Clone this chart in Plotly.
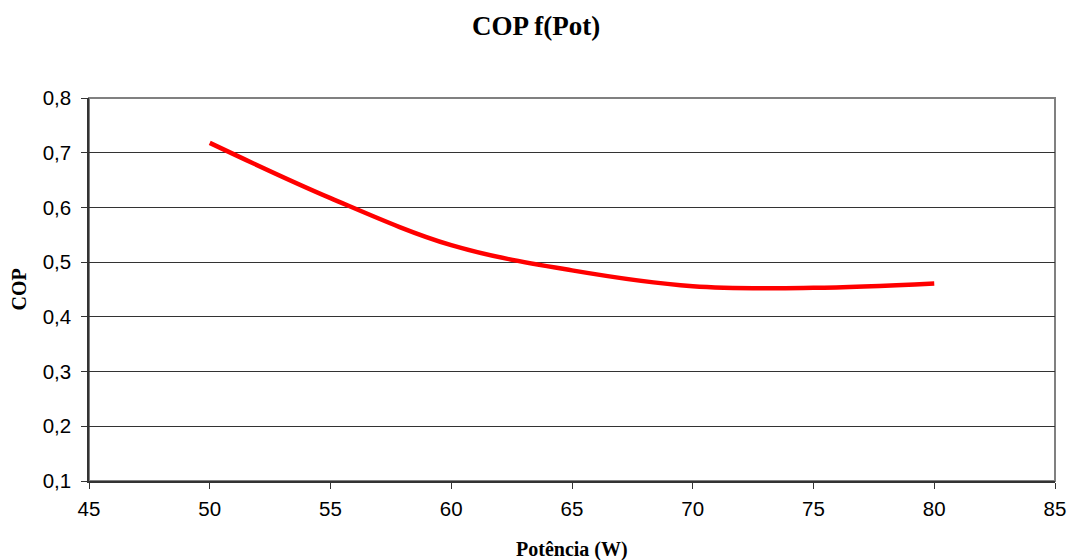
import plotly.graph_objects as go

potencia = [50, 55, 60, 65, 70, 75, 80]
cop = [0.718, 0.617, 0.531, 0.485, 0.456, 0.453, 0.461]

title_text = "COP f(Pot)"
x_title = "Potência (W)"
y_title = "COP"
x_ticks = [45, 50, 55, 60, 65, 70, 75, 80, 85]
y_ticks = [0.1, 0.2, 0.3, 0.4, 0.5, 0.6, 0.7, 0.8]

fig = go.Figure()
fig.add_trace(go.Scatter(
    x=potencia, y=cop, mode="lines",
    line=dict(color="#FF0000", width=4.5, shape="spline", smoothing=1.0),
    showlegend=False, hoverinfo="x+y",
))

serif = "Liberation Serif, Times New Roman, serif"
sans = "Liberation Sans, Arial, sans-serif"

fig.update_layout(
    width=1072, height=560,
    margin=dict(l=89, r=17, t=98, b=79, autoexpand=False),
    paper_bgcolor="white", plot_bgcolor="white",
    separators=", ",
    font=dict(family=sans, size=20, color="black"),
    xaxis=dict(
        range=[45, 85], tickvals=x_ticks, showgrid=False, zeroline=False,
        automargin=False,
        showline=True, linecolor="#333333", linewidth=1.5,
        ticks="outside", ticklen=6, tickcolor="#333333", tickwidth=1.2,
        ticklabelstandoff=3,
        tickfont=dict(family=sans, size=20.5, color="black"),
    ),
    yaxis=dict(
        range=[0.1, 0.8], tickvals=y_ticks, tickformat=".1f",
        automargin=False,
        showgrid=True, gridcolor="#333333", gridwidth=1, zeroline=False,
        showline=True, linecolor="#333333", linewidth=1.5,
        ticks="outside", ticklen=6, tickcolor="#333333", tickwidth=1.2,
        ticklabelstandoff=6,
        tickfont=dict(family=sans, size=20.5, color="black"),
    ),
    shapes=[dict(type="rect", xref="paper", yref="paper", x0=0, y0=0, x1=1, y1=1,
                 line=dict(color="#808080", width=2), layer="below")],
    annotations=[
        dict(text="<b>" + title_text + "</b>", xref="paper", yref="paper",
             x=0.5, y=(560 - 27 - 79) / 383.0, xanchor="center", yanchor="middle",
             showarrow=False, font=dict(family=serif, size=27, color="black"),
             xshift=-36, yshift=1),
        dict(text="<b>" + x_title + "</b>", xref="paper", yref="paper",
             x=0.5, y=-(549 - 481) / 383.0, xanchor="center", yanchor="middle",
             showarrow=False, font=dict(family=serif, size=20, color="black")),
        dict(text="<b>" + y_title + "</b>", xref="paper", yref="paper",
             x=-(89 - 18) / 966.0, y=0.5, xanchor="center", yanchor="middle",
             textangle=-90, showarrow=False,
             font=dict(family=serif, size=20, color="black")),
    ],
)

fig.write_html(
    "out.html",
    config={"displayModeBar": False},
    post_script="document.body.style.margin='0';document.body.style.padding='0';",
)
